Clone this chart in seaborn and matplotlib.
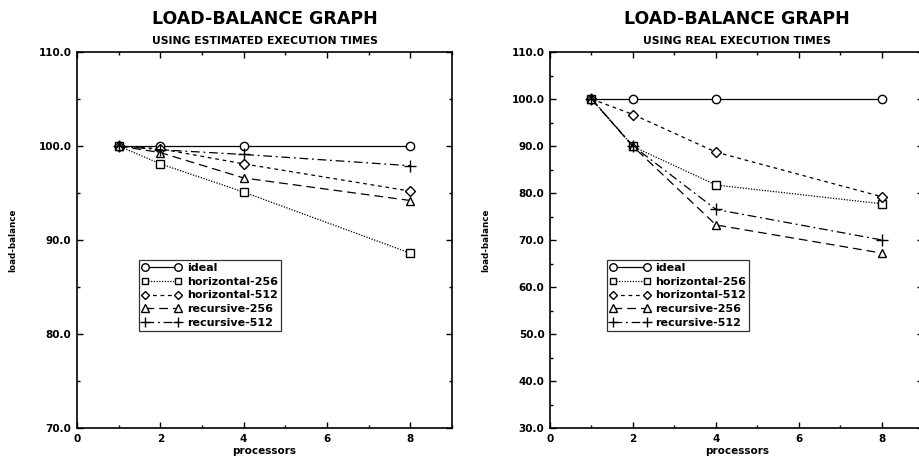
import matplotlib
matplotlib.use("Agg")
import matplotlib.pyplot as plt
from matplotlib.ticker import MultipleLocator, FormatStrFormatter
import seaborn as sns
import pandas as pd

# ---- data ----
processors = [1, 2, 4, 8]
series_names = ["ideal", "horizontal-256", "horizontal-512", "recursive-256", "recursive-512"]

est_ideal = [100.0, 100.0, 100.0, 100.0]
est_h256 = [100.0, 98.1, 95.1, 88.6]
est_h512 = [100.0, 99.7, 98.1, 95.2]
est_r256 = [100.0, 99.3, 96.6, 94.2]
est_r512 = [100.0, 99.6, 99.1, 97.9]

real_ideal = [100.0, 100.0, 100.0, 100.0]
real_h256 = [100.0, 89.9, 81.7, 77.7]
real_h512 = [100.0, 96.7, 88.7, 79.2]
real_r256 = [100.0, 89.9, 73.2, 67.2]
real_r512 = [100.0, 90.0, 76.5, 70.0]

main_title = "LOAD-BALANCE GRAPH"
subtitles = ["USING ESTIMATED EXECUTION TIMES", "USING REAL EXECUTION TIMES"]
xlabel = "processors"
ylabel = "load-balance"

# ---- styles ----
markers = ["o", "s", "D", "^", "+"]
msizes = [6, 5.5, 5, 6, 8]
linestyles = ["-", (0, (1, 1.2)), (0, (3, 3)), (0, (7, 4)), (0, (7, 3, 1.5, 3))]

sns.set_style("ticks")
plt.rcParams["font.family"] = ["DejaVu Sans"]
plt.rcParams["font.weight"] = "bold"
for k in ["text.color", "axes.labelcolor", "xtick.color", "ytick.color", "axes.edgecolor"]:
    plt.rcParams[k] = "black"

fig = plt.figure(figsize=(9.2, 4.57), dpi=100)
bottom = 1 - 428 / 457
height = (428 - 52) / 457
ax1 = fig.add_axes([77 / 920, bottom, 375 / 920, height])
ax2 = fig.add_axes([550 / 920, bottom, 373.5 / 920, height])

panels = [
    (ax1, [est_ideal, est_h256, est_h512, est_r256, est_r512], (70, 110), 0.165),
    (ax2, [real_ideal, real_h256, real_h512, real_r256, real_r512], (30, 110), 0.153),
]

for i, (ax, vals, ylim, legx) in enumerate(panels):
    for name, v, m, ms, ls in zip(series_names, vals, markers, msizes, linestyles):
        df = pd.DataFrame({"processors": processors, "load": v})
        sns.lineplot(data=df, x="processors", y="load", ax=ax, color="black",
                     linewidth=0.9, linestyle=ls, marker=m, markersize=ms,
                     markerfacecolor="white", markeredgecolor="black",
                     markeredgewidth=1.0, label=name)
    ax.set_xlim(0, 9)
    ax.set_ylim(*ylim)
    ax.xaxis.set_major_locator(MultipleLocator(2))
    ax.xaxis.set_minor_locator(MultipleLocator(1))
    ax.yaxis.set_major_locator(MultipleLocator(10))
    ax.yaxis.set_minor_locator(MultipleLocator(5))
    ax.yaxis.set_major_formatter(FormatStrFormatter("%.1f"))
    ax.tick_params(which="both", direction="in", top=True, right=True,
                   width=1.0, color="black", labelcolor="black")
    ax.tick_params(which="major", length=4, labelsize=7.5, pad=4)
    ax.tick_params(which="minor", length=2.5)
    for lab in ax.get_xticklabels() + ax.get_yticklabels():
        lab.set_fontweight("bold")
    for sp in ax.spines.values():
        sp.set_color("black")
        sp.set_linewidth(1.2)
    ax.set_xlabel(xlabel, fontsize=7.5, fontweight="bold", labelpad=2, color="black")
    ax.set_ylabel(ylabel, fontsize=6.3, fontweight="bold", labelpad=15, color="black")
    leg = ax.legend(loc="upper left", bbox_to_anchor=(legx, 0.447),
                    fontsize=8, handlelength=3.6, handletextpad=0.5,
                    labelspacing=0.35, borderpad=0.25, borderaxespad=0,
                    numpoints=2, markerscale=0.9,
                    fancybox=False, frameon=True)
    leg.get_frame().set_edgecolor("black")
    leg.get_frame().set_linewidth(0.9)
    for t in leg.get_texts():
        t.set_fontweight("bold")
        t.set_color("black")
    cx = (ax.get_position().x0 + ax.get_position().x1) / 2
    if cx > 0.9:
        cx = 736 / 920
    fig.text(cx, 1 - 19 / 457, main_title, ha="center", va="center",
             fontsize=12.5, fontweight="bold", color="black")
    fig.text(cx, 1 - 41 / 457, subtitles[i], ha="center", va="center",
             fontsize=7.8, fontweight="bold", color="black")

fig.savefig("out.png", dpi=100, facecolor="white")
